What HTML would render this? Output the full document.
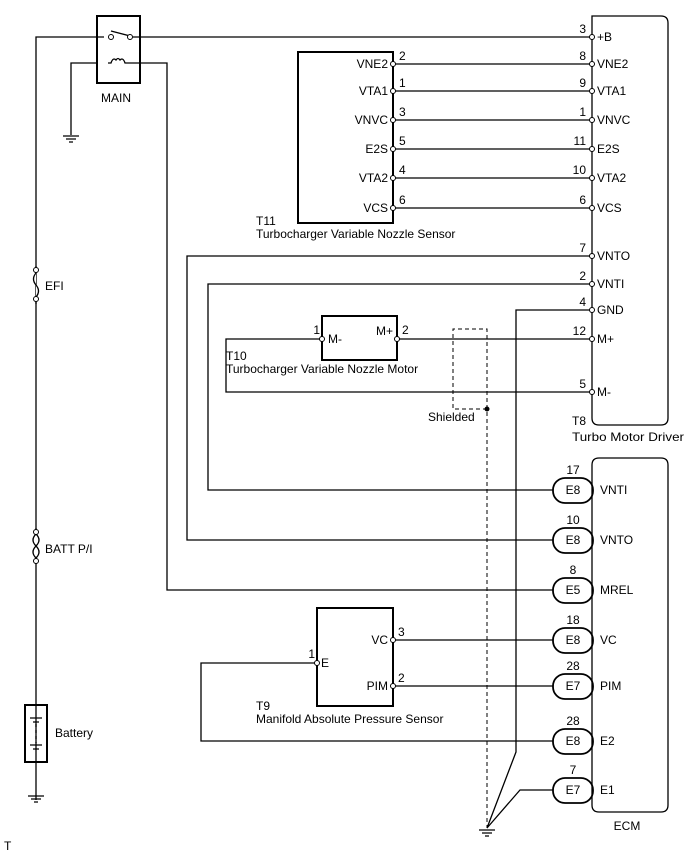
<!DOCTYPE html>
<html><head><meta charset="utf-8"><style>
body{margin:0;background:#fff}
svg{display:block}
text{font-family:"Liberation Sans",Arial,sans-serif;font-size:12px;fill:#000}
</style></head><body>
<svg width="690" height="855" viewBox="0 0 690 855" xmlns="http://www.w3.org/2000/svg">
<g fill="none" stroke="#000" stroke-width="1.3">
<path d="M592 16 V418 Q592 425 599 425 H661 Q668 425 668 418 V23 Q668 16 661 16 Z"/>
<path d="M592 465 Q592 458 599 458 H661 Q668 458 668 465 V805 Q668 812 661 812 H599 Q592 812 592 805 Z"/>
<rect x="97" y="16" width="43" height="67" stroke-width="2"/>
<line x1="111" y1="31" x2="130" y2="36"/>
<path d="M108 63 H111 Q113 57 116 60 Q118 57 120 60 Q123 57 125 63 H140" />
<path d="M36 800 V37 H104 M133 37 H592"/>
<path d="M97 63 H71 V135"/>
<path d="M140 63 H167 V590 H553"/>
<path d="M63 136 H79 M66 139 H76 M69 142 H73"/>
<path d="M28 796 H44 M31 799 H41 M34 802 H38"/>
<path d="M479 830 H495 M482 833 H492 M485 836 H489"/>
<rect x="25" y="705" width="22" height="57" stroke-width="2"/>
<path d="M30 718 H42 M33 722 H39 M30 745 H42 M33 749 H39"/>
<path d="M36 724 V743" stroke-dasharray="3 3"/>
<rect x="298" y="52" width="95" height="171" stroke-width="2"/>
<path d="M393 64 H592 M393 91 H592 M393 120 H592 M393 149 H592 M393 178 H592 M393 208 H592"/>
<path d="M592 256 H187 V540 H553"/>
<path d="M592 284 H208 V490 H553"/>
<path d="M592 310 H516 V752 L487 828"/>
<rect x="322" y="316" width="75" height="44" stroke-width="2"/>
<path d="M397 339 H592"/>
<path d="M322 339 H226 V392 H592"/>
<path d="M487 409 H453 V329 H487 V828" stroke-dasharray="4 3" stroke-width="1"/>
<rect x="317" y="608" width="76" height="98" stroke-width="2"/>
<path d="M393 640 H553 M393 686 H553"/>
<path d="M317 663 H201 V741 H553"/>
<path d="M553 790 H520 L487 828"/>
<g stroke-width="1.8">
<rect x="553" y="478" width="40" height="25" rx="12"/>
<rect x="553" y="528" width="40" height="25" rx="12"/>
<rect x="553" y="578" width="40" height="25" rx="12"/>
<rect x="553" y="628" width="40" height="25" rx="12"/>
<rect x="553" y="674" width="40" height="25" rx="12"/>
<rect x="553" y="729" width="40" height="25" rx="12"/>
<rect x="553" y="778" width="40" height="25" rx="12"/>
</g>
<path d="M36 266 V273 Q31 279 36 285 Q41 291 36 297 V304" fill="#fff"/>
<path d="M36 528 V534 Q30 540 36 546 Q42 552 36 558 M36 534 Q42 540 36 546 Q30 552 36 558 V564" fill="#fff"/>
</g>
<g fill="#fff" stroke="#000" stroke-width="1">
<circle cx="111" cy="37" r="2.5"/><circle cx="130" cy="37" r="2.5"/>
<circle cx="36" cy="270" r="2.5"/><circle cx="36" cy="299" r="2.5"/>
<circle cx="36" cy="532" r="2.5"/><circle cx="36" cy="561" r="2.5"/>
<circle cx="592" cy="37" r="2.5"/>
<circle cx="393" cy="64" r="2.5"/><circle cx="393" cy="91" r="2.5"/><circle cx="393" cy="120" r="2.5"/>
<circle cx="393" cy="149" r="2.5"/><circle cx="393" cy="178" r="2.5"/><circle cx="393" cy="208" r="2.5"/>
<circle cx="592" cy="64" r="2.5"/><circle cx="592" cy="91" r="2.5"/><circle cx="592" cy="120" r="2.5"/>
<circle cx="592" cy="149" r="2.5"/><circle cx="592" cy="178" r="2.5"/><circle cx="592" cy="208" r="2.5"/>
<circle cx="592" cy="256" r="2.5"/><circle cx="592" cy="284" r="2.5"/><circle cx="592" cy="310" r="2.5"/>
<circle cx="592" cy="339" r="2.5"/><circle cx="592" cy="392" r="2.5"/>
<circle cx="322" cy="339" r="2.5"/><circle cx="397" cy="339" r="2.5"/>
<circle cx="393" cy="640" r="2.5"/><circle cx="393" cy="686" r="2.5"/><circle cx="317" cy="663" r="2.5"/>
</g>
<circle cx="487" cy="409" r="2.5" fill="#000"/>
<g>
<text x="101" y="102">MAIN</text>
<text x="45" y="290">EFI</text>
<text x="45" y="553">BATT P/I</text>
<text x="55" y="737">Battery</text>
<text x="4" y="850" font-size="10">T</text>
<g text-anchor="end">
<text x="388" y="68">VNE2</text><text x="388" y="95">VTA1</text><text x="388" y="124">VNVC</text>
<text x="388" y="153">E2S</text><text x="388" y="182">VTA2</text><text x="388" y="212">VCS</text>
<text x="586" y="33">3</text><text x="586" y="60">8</text><text x="586" y="87">9</text><text x="586" y="116">1</text>
<text x="586" y="145">11</text><text x="586" y="174">10</text><text x="586" y="204">6</text>
<text x="586" y="252">7</text><text x="586" y="280">2</text><text x="586" y="306">4</text>
<text x="586" y="335">12</text><text x="586" y="388">5</text>
<text x="320" y="334">1</text>
<text x="315" y="658">1</text>
<text x="388" y="644">VC</text><text x="388" y="690">PIM</text>
<text x="393" y="335">M+</text>
</g>
<text x="399" y="60">2</text><text x="399" y="87">1</text><text x="399" y="116">3</text>
<text x="399" y="145">5</text><text x="399" y="174">4</text><text x="399" y="204">6</text>
<text x="597" y="41">+B</text><text x="597" y="68">VNE2</text><text x="597" y="95">VTA1</text>
<text x="597" y="124">VNVC</text><text x="597" y="153">E2S</text><text x="597" y="182">VTA2</text>
<text x="597" y="212">VCS</text><text x="597" y="260">VNTO</text><text x="597" y="288">VNTI</text>
<text x="597" y="314">GND</text><text x="597" y="343">M+</text><text x="597" y="396">M-</text>
<text x="256" y="225">T11</text>
<text x="256" y="238">Turbocharger Variable Nozzle Sensor</text>
<text x="328" y="343">M-</text>
<text x="402" y="334">2</text>
<text x="226" y="360">T10</text>
<text x="226" y="373">Turbocharger Variable Nozzle Motor</text>
<text x="428" y="421">Shielded</text>
<text x="572" y="425">T8</text>
<text x="572" y="441" textLength="112" lengthAdjust="spacingAndGlyphs">Turbo Motor Driver</text>
<text x="321" y="667">E</text>
<text x="398" y="636">3</text><text x="398" y="682">2</text>
<text x="256" y="710">T9</text>
<text x="256" y="723">Manifold Absolute Pressure Sensor</text>
<g text-anchor="middle">
<text x="573" y="474">17</text><text x="573" y="494">E8</text>
<text x="573" y="524">10</text><text x="573" y="544">E8</text>
<text x="573" y="574">8</text><text x="573" y="594">E5</text>
<text x="573" y="624">18</text><text x="573" y="644">E8</text>
<text x="573" y="670">28</text><text x="573" y="690">E7</text>
<text x="573" y="725">28</text><text x="573" y="745">E8</text>
<text x="573" y="774">7</text><text x="573" y="794">E7</text>
<text x="627" y="830">ECM</text>
</g>
<text x="600" y="494">VNTI</text><text x="600" y="544">VNTO</text><text x="600" y="594">MREL</text>
<text x="600" y="644">VC</text><text x="600" y="690">PIM</text><text x="600" y="745">E2</text><text x="600" y="794">E1</text>
</g>
</svg>
</body></html>
